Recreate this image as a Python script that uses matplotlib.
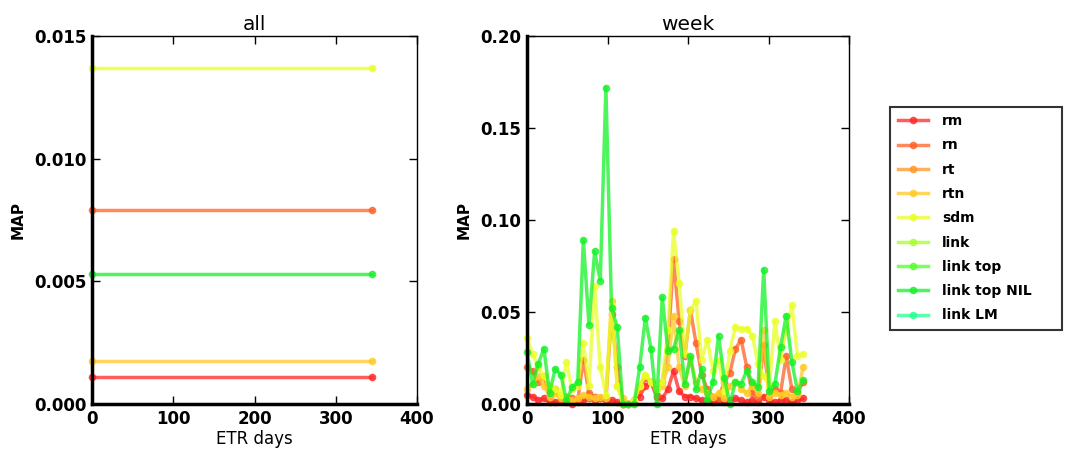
import numpy as np
import matplotlib
matplotlib.use("Agg")
import matplotlib.pyplot as plt
import colorsys

names = ['rm', 'rn', 'rt', 'rtn', 'sdm', 'link', 'link top', 'link top NIL', 'link LM']
nan = np.nan

# "all" panel: one value per series (drawn from day 0 to the last day)
all_days = [0, 345]
all_map = {
    'rm': 0.0011, 'rn': 0.0079, 'rt': nan, 'rtn': 0.00175, 'sdm': 0.0137,
    'link': nan, 'link top': nan, 'link top NIL': 0.0053, 'link LM': nan,
}

# "week" panel
week_days = list(range(0, 350, 7))
week_rm = [0.005, 0.004, 0.002, 0.003, 0.001, 0.001, 0.002, 0.001, 0.0, 0.001,
           0.002, 0.003, 0.002, 0.003, 0.002, 0.002, 0.001, 0.0, 0.0, 0.001,
           0.004, 0.010, 0.012, 0.004, 0.003, 0.008, 0.018, 0.007, 0.004, 0.004,
           0.003, 0.002, 0.002, 0.001, 0.002, 0.001, 0.002, 0.003, 0.002, 0.001,
           0.002, 0.001, 0.004, 0.002, 0.001, 0.002, 0.002, 0.001, 0.002, 0.003]
week_rn = [0.020, 0.018, 0.012, 0.015, 0.004, 0.008, 0.002, 0.004, 0.003, 0.002,
           0.024, 0.006, 0.004, 0.003, 0.003, 0.049, 0.020, 0.0, 0.0, 0.002,
           0.008, 0.014, 0.012, 0.005, 0.012, 0.030, 0.079, 0.045, 0.026, 0.051,
           0.033, 0.016, 0.008, 0.004, 0.003, 0.012, 0.017, 0.030, 0.035, 0.020,
           0.006, 0.004, 0.032, 0.005, 0.008, 0.006, 0.026, 0.008, 0.006, 0.012]
week_rtn = [0.008, 0.011, 0.015, 0.010, 0.004, 0.006, 0.003, 0.004, 0.002, 0.003,
            0.005, 0.004, 0.003, 0.004, 0.003, 0.056, 0.010, 0.003, 0.0, 0.002,
            0.010, 0.015, 0.012, 0.008, 0.010, 0.020, 0.048, 0.020, 0.010, 0.025,
            0.012, 0.008, 0.006, 0.004, 0.006, 0.003, 0.010, 0.012, 0.008, 0.006,
            0.010, 0.006, 0.040, 0.004, 0.006, 0.005, 0.006, 0.004, 0.005, 0.020]
week_sdm = [0.036, 0.027, 0.020, 0.015, 0.010, 0.008, 0.005, 0.023, 0.008, 0.010,
            0.033, 0.010, 0.064, 0.020, 0.005, 0.054, 0.010, 0.0, 0.0, 0.002,
            0.010, 0.016, 0.012, 0.008, 0.012, 0.040, 0.094, 0.066, 0.027, 0.051,
            0.056, 0.024, 0.035, 0.018, 0.024, 0.007, 0.029, 0.042, 0.041, 0.041,
            0.037, 0.022, 0.015, 0.010, 0.045, 0.024, 0.040, 0.054, 0.026, 0.027]
week_link_top_nil = [0.028, 0.011, 0.022, 0.030, 0.006, 0.019, 0.016, 0.002, 0.009, 0.012,
                     0.089, 0.043, 0.083, 0.067, 0.172, 0.052, 0.042, 0.0, 0.0, 0.0,
                     0.020, 0.047, 0.030, 0.0, 0.058, 0.029, 0.030, 0.040, 0.011, 0.026,
                     0.008, 0.019, 0.002, 0.012, 0.037, 0.014, 0.0, 0.012, 0.011, 0.018,
                     0.012, 0.009, 0.073, 0.007, 0.011, 0.031, 0.048, 0.023, 0.007, 0.013]
empty = [nan] * len(week_days)
week_map = {
    'rm': week_rm, 'rn': week_rn, 'rt': empty, 'rtn': week_rtn, 'sdm': week_sdm,
    'link': empty, 'link top': empty, 'link top NIL': week_link_top_nil, 'link LM': empty,
}

# red -> green hues
hues = [0, 16, 31, 45, 66, 85, 108, 130, 150]
colors = {n: colorsys.hsv_to_rgb(h / 360.0, 0.85, 1.0) for n, h in zip(names, hues)}
colors['link top NIL'] = colorsys.hsv_to_rgb(125 / 360.0, 0.92, 0.95)

plt.rcParams['font.family'] = 'DejaVu Sans'
fig = plt.figure(figsize=(10.66, 4.55), dpi=100)
ax1 = fig.add_axes([92 / 1066, 1 - 404 / 455, 325 / 1066, 368 / 455])
ax2 = fig.add_axes([527 / 1066, 1 - 404 / 455, 322 / 1066, 368 / 455])


def draw(ax, days, data):
    lines = []
    for n in names:
        vals = data[n]
        if np.isscalar(vals):
            vals = [vals, vals]
        l, = ax.plot(days, vals, '-o', color=colors[n], alpha=0.75, lw=2.5,
                     ms=4.5, mec=colors[n], label=n, clip_on=False)
        lines.append(l)
    return lines


lines = draw(ax1, all_days, all_map)
draw(ax2, week_days, week_map)

for ax, title, ymax, step, fmt in [(ax1, 'all', 0.015, 0.005, '%.3f'),
                                   (ax2, 'week', 0.20, 0.05, '%.2f')]:
    ax.set_xlim(0, 400)
    ax.set_ylim(0, ymax)
    ax.set_xticks(np.arange(0, 401, 100))
    ax.set_yticks(np.arange(0, ymax + step / 2, step))
    ax.yaxis.set_major_formatter(matplotlib.ticker.FormatStrFormatter(fmt))
    ax.tick_params(direction='in', length=6, width=1, top=True, right=True,
                   labelsize=12, pad=4)
    for lab in ax.get_xticklabels() + ax.get_yticklabels():
        lab.set_fontweight('bold')
    ax.spines['left'].set_linewidth(2.5)
    ax.spines['bottom'].set_linewidth(2.5)
    ax.spines['top'].set_linewidth(1)
    ax.spines['right'].set_linewidth(1)
    ax.set_title(title, fontsize=14.5, pad=4)
    ax.set_xlabel('ETR days', fontsize=12, labelpad=2)
    ax.set_ylabel('MAP', fontsize=11, fontweight='bold', labelpad=6)

leg = fig.legend(handles=lines, loc='upper left',
                 bbox_to_anchor=(890 / 1066, 1 - 107 / 455, 172 / 1066, 0.001),
                 mode='expand', prop={'weight': 'bold', 'size': 10}, frameon=True,
                 fancybox=False, borderpad=0.55, labelspacing=0.74, handlelength=2.2,
                 handletextpad=1.0, borderaxespad=0)
leg.get_frame().set_edgecolor('black')
leg.get_frame().set_linewidth(1.5)

fig.savefig('out.png', dpi=100)
